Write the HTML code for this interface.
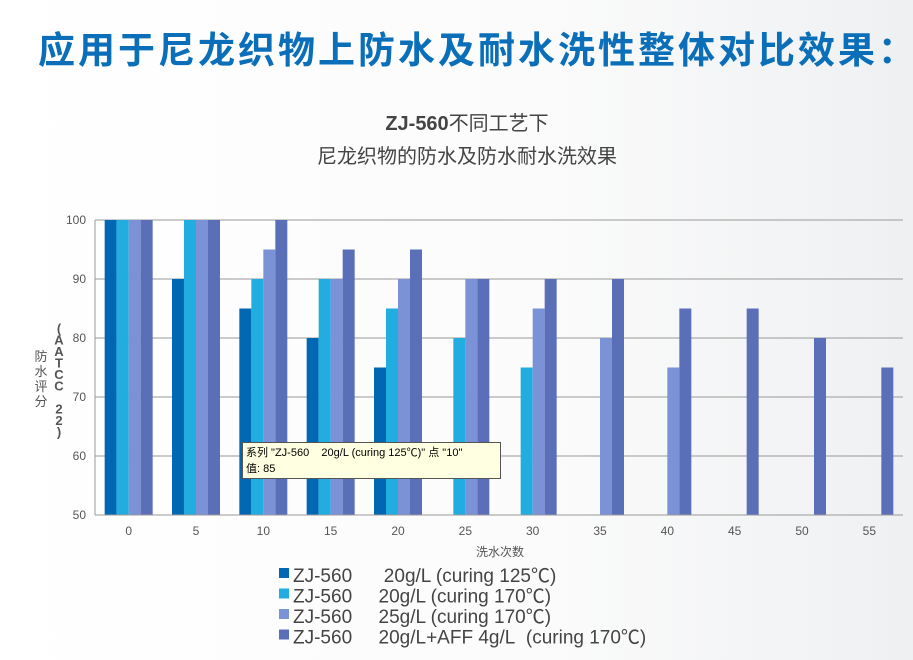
<!DOCTYPE html>
<html><head><meta charset="utf-8">
<style>
body{margin:0;width:913px;height:660px;overflow:hidden;background:#fff;font-family:"Liberation Sans","Noto Sans CJK SC",sans-serif;}
#bg{position:absolute;left:0;top:0;width:913px;height:660px;background:linear-gradient(90deg,#fff 0%,#fbfbfb 60%,#eef0f2 100%);}
h1{position:absolute;left:38px;top:20px;margin:0;font-size:37px;font-weight:bold;color:#0a6fb8;letter-spacing:3px;white-space:nowrap;font-family:"Liberation Sans","Noto Sans CJK SC",sans-serif;}
svg{position:absolute;left:0;top:0}
</style></head><body>
<div id="bg"></div>
<h1>应用于尼龙织物上防水及耐水洗性整体对比效果：</h1>
<svg id="c" width="913" height="660"></svg>
<script>
const categories=[0,5,10,15,20,25,30,35,40,45,50,55];
const s1=[100,90,85,80,75,null,null,null,null,null,null,null];
const s2=[100,100,90,90,85,80,75,null,null,null,null,null];
const s3=[100,100,95,90,90,90,85,80,75,null,null,null];
const s4=[100,100,100,95,95,90,90,90,85,85,80,75];
const yTicks=[50,60,70,80,90,100];
const seriesNames=["ZJ-560\u00a0\u00a0\u00a0\u00a0\u00a0\u00a020g/L (curing 125\u2103)","ZJ-560\u00a0\u00a0\u00a0\u00a0\u00a020g/L (curing 170\u2103)","ZJ-560\u00a0\u00a0\u00a0\u00a0\u00a025g/L (curing 170\u2103)","ZJ-560\u00a0\u00a0\u00a0\u00a0\u00a020g/L+AFF 4g/L\u00a0 (curing 170\u2103)"];
const colors=["#0068b3","#22ade0","#7b93d6","#5b6fb8"];
const NS="http://www.w3.org/2000/svg";
const svg=document.getElementById('c');
const L=95,R=903,T=220,B=515;
const cw=(R-L)/categories.length;
const y=v=>B-(v-50)/(100-50)*(B-T);
const xc=i=>L+cw*(i+0.5);
function el(t,a,txt){const e=document.createElementNS(NS,t);for(const k in a)e.setAttribute(k,a[k]);if(txt!=null)e.textContent=txt;svg.appendChild(e);return e;}
let e;
e=el('text',{x:467,y:130,'text-anchor':'middle','font-size':20,fill:'#444'});
e.innerHTML='<tspan font-weight="bold">ZJ-560</tspan>不同工艺下';


e=el('text',{x:467,y:163,'text-anchor':'middle','font-size':20,fill:'#444'},'尼龙织物的防水及防水耐水洗效果');


yTicks.forEach(t=>{
 e=el('line',{x1:L,x2:R,y1:y(t),y2:y(t),stroke:'#999','stroke-width':1});
 
 
 e=el('text',{x:L-9,y:y(t)+4,'text-anchor':'end','font-size':12,fill:'#555'},String(t));
 
 
});
e=el('line',{x1:L,x2:L,y1:T,y2:B,stroke:'#999'});


const bw=12;
[s1,s2,s3,s4].forEach((s,si)=>{
 s.forEach((v,i)=>{
  if(v==null)return;
  const r=el('rect',{x:xc(i)-2*bw+si*bw,y:y(v),width:bw,height:B-y(v),fill:colors[si]});
  
  
 });
});
e=el('line',{x1:L,x2:R,y1:B,y2:B,stroke:'#999'});


categories.forEach((c,i)=>{
 e=el('text',{x:xc(i),y:535,'text-anchor':'middle','font-size':12,fill:'#555'},String(c));
 
 
});
e=el('text',{x:500,y:556,'text-anchor':'middle','font-size':12,fill:'#555'},'洗水次数');


['防','水','评','分'].forEach((ch,i)=>{
 e=el('text',{x:41,y:361+i*15,'text-anchor':'middle','font-size':13,fill:'#555'},ch);
 
 
});
['(','A','A','T','C','C','',' 2','2',')'].forEach((ch,i)=>{
 e=el('text',{x:59,y:333+i*11.5,'text-anchor':'middle','font-size':13,'font-weight':'bold',fill:'#555'},ch);
 
 
});
seriesNames.forEach((n,i)=>{
 const yy=575+i*20.5;
 e=el('rect',{x:279,y:yy-7,width:10,height:10,fill:colors[i]});
 
 
 e=el('text',{x:293,y:yy+7,'font-size':19,fill:'#444'},n);
 
 
});
e=el('rect',{x:242.5,y:442.5,width:258,height:36,fill:'#ffffe1',stroke:'#555'});


e=el('text',{x:246,y:456,'font-size':11,fill:'#000'},'系列 "ZJ-560\u00a0\u00a0\u00a0\u00a020g/L (curing 125℃)" 点 "10"');


e=el('text',{x:246,y:472,'font-size':11,fill:'#000'},'值: 85');


</script>
</body></html>
